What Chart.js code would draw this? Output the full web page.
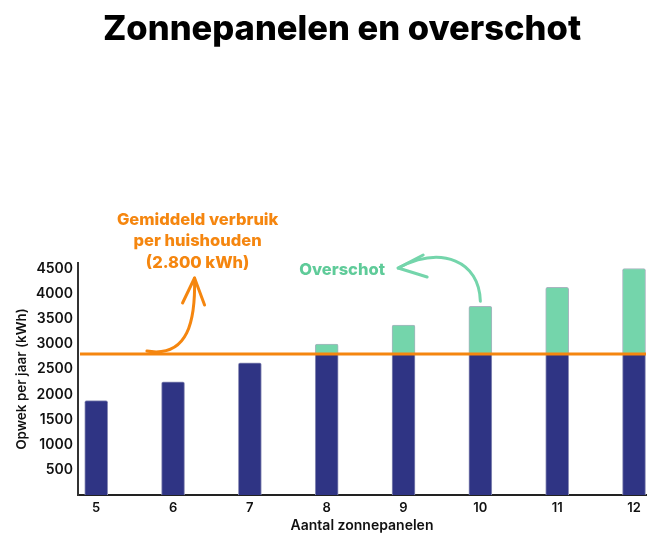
<!DOCTYPE html>
<html>
<head>
<meta charset="utf-8">
<script src="https://cdn.jsdelivr.net/npm/chart.js@4/dist/chart.umd.min.js"></script>
<style>
  html, body { margin: 0; padding: 0; background: #fff; }
  #wrap { width: 664px; height: 551px; }
</style>
</head>
<body>
<div id="wrap"><canvas id="myChart"></canvas></div>
<script>
const panelen = [5, 6, 7, 8, 9, 10, 11, 12];
const eigenVerbruik = [1875, 2250, 2625, 2800, 2800, 2800, 2800, 2800];
const overschot = [0, 0, 0, 200, 575, 950, 1325, 1700];
const gemiddeldVerbruik = 2800;
const yTicks = [500, 1000, 1500, 2000, 2500, 3000, 3500, 4000, 4500];

const ORANGE = "#f5860f";
const GREEN_TEXT = "#5fcb99";
const GREEN = "#74d5ab";
const BLUE = "#2f3484";
const FONT = "Inter, 'DejaVu Sans', sans-serif";

// heading, average usage line and the two hand-drawn style notes
const notesPlugin = {
  id: "notes",
  afterDatasetsDraw(chart) {
    const { ctx, chartArea, scales } = chart;
    const yPix = scales.y.getPixelForValue(gemiddeldVerbruik);
    ctx.save();
    ctx.strokeStyle = ORANGE;
    ctx.lineWidth = 3;
    ctx.beginPath();
    ctx.moveTo(chartArea.left + 2, yPix);
    ctx.lineTo(chartArea.right, yPix);
    ctx.stroke();
    ctx.restore();
  },
  afterDraw(chart) {
    const { ctx, chartArea, scales } = chart;
    const px = v => scales.x.getPixelForValue(v);
    const py = v => scales.y.getPixelForValue(v);
    const top = chartArea.top;

    ctx.save();
    ctx.textAlign = "center";
    ctx.textBaseline = "alphabetic";
    ctx.fillStyle = "#000";
    ctx.font = "800 34.5px " + FONT;
    ctx.fillText("Zonnepanelen en overschot", 342, 40);

    ctx.textBaseline = "middle";
    ctx.font = "800 16.5px " + FONT;
    ctx.fillStyle = ORANGE;
    const cx = px(6.32);
    ctx.fillText("Gemiddeld verbruik", cx, top - 43);
    ctx.fillText("per huishouden", cx, top - 22);
    ctx.fillText("(2.800 kWh)", cx, top);

    ctx.fillStyle = GREEN_TEXT;
    ctx.fillText("Overschot", px(8.2), top + 7);

    const arrow = (pts, color) => {
      const [p0, p1, p2, p3, b1, b2] = pts;
      ctx.strokeStyle = color;
      ctx.lineWidth = 3;
      ctx.lineCap = "round";
      ctx.lineJoin = "round";
      ctx.beginPath();
      ctx.moveTo(p0[0], p0[1]);
      ctx.bezierCurveTo(p1[0], p1[1], p2[0], p2[1], p3[0], p3[1]);
      ctx.stroke();
      ctx.beginPath();
      ctx.moveTo(b1[0], b1[1]);
      ctx.lineTo(p3[0], p3[1]);
      ctx.lineTo(b2[0], b2[1]);
      ctx.stroke();
    };

    // orange arrow from the line up to the label
    const ly = py(gemiddeldVerbruik);
    const ox = px(6.28);
    arrow([
      [px(5.66), ly - 3],
      [ox - 6, ly + 4],
      [ox + 1, ly - 34],
      [ox, top + 15],
      [ox - 12, top + 40],
      [ox + 10, top + 42]
    ], ORANGE);

    // green arrow from bar 10 to "Overschot"
    const gx = px(10);
    const gy = py(eigenVerbruik[5] + overschot[5]) - 5;
    const tx = px(8.93);
    arrow([
      [gx, gy],
      [gx - 1, gy - 40],
      [gx - 38, gy - 56],
      [tx, top + 5],
      [tx + 25, top - 8],
      [tx + 29, top + 14]
    ], GREEN);
    ctx.restore();
  }
};

const ctx = document.getElementById("myChart").getContext("2d");
const myChart = new Chart(ctx, {
  type: "bar",
  plugins: [notesPlugin],
  data: {
    datasets: [
      {
        label: "Eigen verbruik",
        data: panelen.map((p, i) => ({ x: p, y: eigenVerbruik[i] })),
        backgroundColor: BLUE,
        borderColor: "#8e90b8",
        borderWidth: 1,
        borderRadius: 2,
        borderSkipped: "bottom",
        barThickness: 23
      },
      {
        label: "Overschot",
        data: panelen.map((p, i) => ({ x: p, y: overschot[i] })),
        backgroundColor: GREEN,
        borderColor: "#a9b4c0",
        borderWidth: 1,
        borderRadius: 2,
        borderSkipped: "bottom",
        barThickness: 23
      }
    ]
  },
  options: {
    responsive: true,
    maintainAspectRatio: false,
    animation: false,
    layout: { padding: { left: 0, right: 18, top: 263, bottom: 0 } },
    plugins: {
      legend: { display: false },
      tooltip: { enabled: false },
      title: { display: false }
    },
    scales: {
      x: {
        type: "linear",
        stacked: true,
        offset: false,
        min: 4.763,
        max: 12.156,
        grid: { display: false, drawTicks: false },
        border: { display: true, color: "#222", width: 2 },
        afterBuildTicks: s => { s.ticks = panelen.map(v => ({ value: v })); },
        afterFit: s => { s.height = 56; },
        ticks: {
          padding: 5,
          color: "#111",
          maxRotation: 0,
          font: { family: FONT, size: 13, weight: "600" },
          callback: v => String(v)
        },
        title: {
          display: true,
          text: "Aantal zonnepanelen",
          color: "#111",
          font: { family: FONT, size: 14, weight: "600" },
          padding: { top: 0, bottom: 17 }
        }
      },
      y: {
        stacked: true,
        min: 0,
        max: 4610,
        grid: { display: false, drawTicks: false },
        border: { display: true, color: "#333", width: 2 },
        afterBuildTicks: s => { s.ticks = yTicks.map(v => ({ value: v })); },
        afterFit: s => { s.width = 78; },
        ticks: {
          padding: 5,
          color: "#111",
          font: { family: FONT, size: 14, weight: "600" },
          callback: v => String(v)
        },
        title: {
          display: true,
          text: "Opwek per jaar (kWh)",
          color: "#111",
          font: { family: FONT, size: 13.5, weight: "600" },
          padding: { top: 14, bottom: 0 }
        }
      }
    }
  }
});
</script>
</body>
</html>
